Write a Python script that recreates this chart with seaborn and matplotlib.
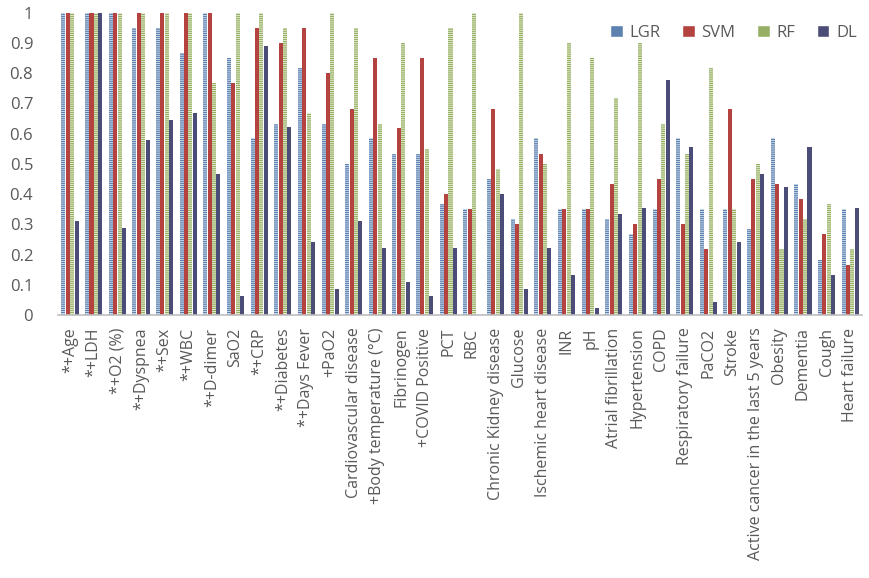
import numpy as np
import pandas as pd
import seaborn as sns
import matplotlib.pyplot as plt

# Variables (x axis)
features = ["*+Age", "*+LDH", "*+O2 (%)", "*+Dyspnea", "*+Sex", "*+WBC", "*+D-dimer",
            "SaO2", "*+CRP", "*+Diabetes", "*+Days Fever", "+PaO2",
            "Cardiovascular disease", "+Body temperature (°C)", "Fibrinogen",
            "+COVID Positive", "PCT", "RBC", "Chronic Kidney disease", "Glucose",
            "Ischemic heart disease", "INR", "pH", "Atrial fibrillation",
            "Hypertension", "COPD", "Respiratory failure", "PaCO2", "Stroke",
            "Active cancer in the last 5 years", "Obesity", "Dementia", "Cough",
            "Heart failure"]

models = ["LGR", "SVM", "RF", "DL"]

lgr = [1, 1, 1, 0.95, 0.95, 0.867, 1, 0.85, 0.585, 0.633, 0.817, 0.633,
       0.50, 0.585, 0.533, 0.533, 0.367, 0.35, 0.45, 0.317, 0.585, 0.35,
       0.35, 0.317, 0.267, 0.35, 0.585, 0.35, 0.35, 0.283, 0.585, 0.433,
       0.183, 0.35]
svm = [1, 1, 1, 1, 1, 1, 1, 0.767, 0.95, 0.90, 0.95, 0.80,
       0.683, 0.85, 0.617, 0.85, 0.40, 0.35, 0.683, 0.30, 0.533, 0.35,
       0.35, 0.433, 0.30, 0.45, 0.30, 0.217, 0.683, 0.45, 0.433, 0.383,
       0.267, 0.167]
rf = [1, 1, 1, 1, 1, 1, 0.767, 1, 1, 0.95, 0.667, 1,
      0.95, 0.633, 0.90, 0.55, 0.95, 1, 0.483, 1, 0.50, 0.90,
      0.85, 0.717, 0.90, 0.633, 0.533, 0.817, 0.35, 0.50, 0.217, 0.317,
      0.367, 0.217]
dl = [0.31, 1, 0.288, 0.578, 0.644, 0.667, 0.467, 0.064, 0.889, 0.622, 0.24, 0.087,
      0.311, 0.222, 0.11, 0.064, 0.222, 0, 0.40, 0.087, 0.222, 0.133,
      0.022, 0.333, 0.355, 0.778, 0.555, 0.044, 0.24, 0.466, 0.422, 0.555,
      0.133, 0.355]

colors = ["#4f81bd", "#c8302c", "#9bbb59", "#45457f"]
hatch_colors = ["#dbe5f3", None, "#eef4e0", None]

df = pd.DataFrame({"feature": features * 4,
                   "model": np.repeat(models, len(features)),
                   "value": lgr + svm + rf + dl})

sns.set_style("white")
plt.rcParams['font.family'] = ['Open Sans', 'DejaVu Sans']
plt.rcParams['hatch.linewidth'] = 0.6

fig = plt.figure(figsize=(8.69, 5.78), dpi=100)
ax = fig.add_axes([0.067, 0.455, 0.925, 0.523])

sns.barplot(data=df, x="feature", y="value", hue="model", hue_order=models,
            palette=colors, width=0.74, gap=0.08, ax=ax, errorbar=None)

for cont, hc in zip(ax.containers, hatch_colors):
    for bar in cont:
        bar.set_linewidth(0)
        if hc is not None:
            bar.set_edgecolor(hc)
            bar.set_hatch("--------")

ax.set_ylim(0, 1)
ax.set_xlim(-0.5, len(features) - 0.5)
ax.set_yticks(np.arange(0, 1.01, 0.1))
ax.set_yticklabels(["0", "0.1", "0.2", "0.3", "0.4", "0.5", "0.6", "0.7", "0.8", "0.9", "1"])
ax.set_xlabel("")
ax.set_ylabel("")
ax.tick_params(axis="x", rotation=90, labelsize=11.5, labelcolor="#595959", length=0, pad=9)
ax.tick_params(axis="y", labelsize=12, labelcolor="#595959", length=0, pad=18)

for s in ["top", "right", "left"]:
    ax.spines[s].set_visible(False)
ax.spines["bottom"].set_color("#bfbfbf")
ax.spines["bottom"].set_linewidth(1.2)

leg = ax.legend(loc="upper right", ncol=4, frameon=False, fontsize=12,
                handlelength=0.75, handleheight=0.75, handletextpad=0.4,
                columnspacing=1.3, bbox_to_anchor=(1.012, 1.01))
for t in leg.get_texts():
    t.set_color("#595959")

fig.savefig("out.png", dpi=100)
